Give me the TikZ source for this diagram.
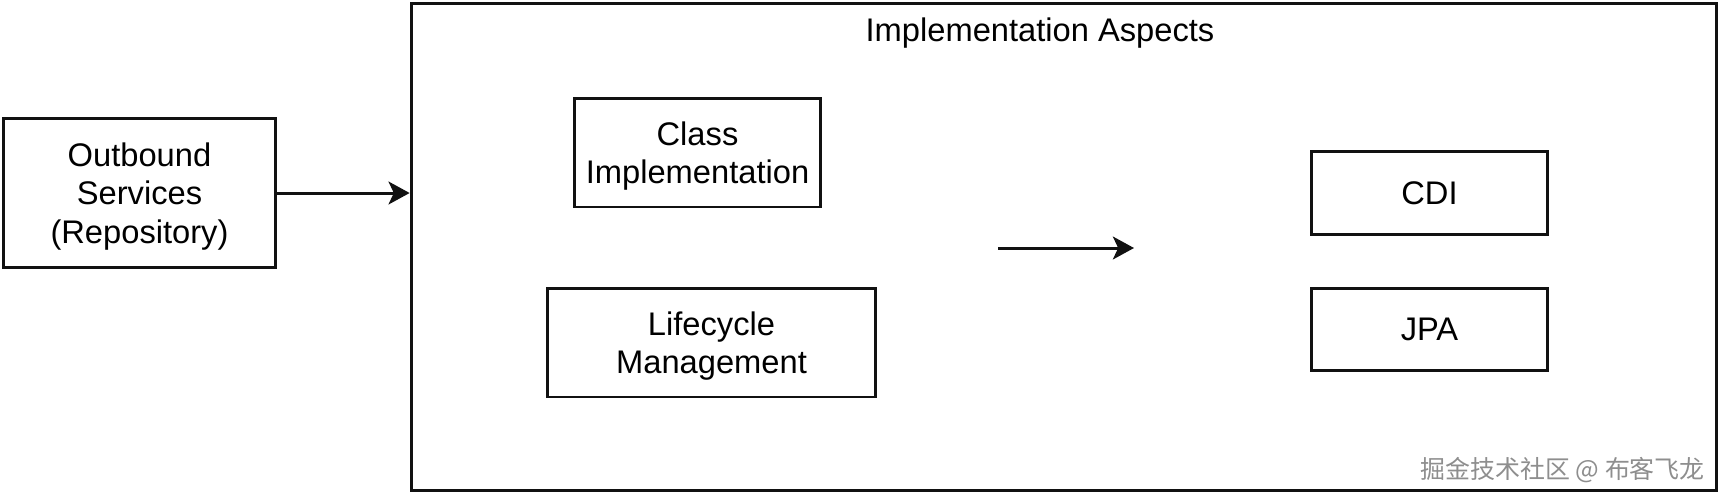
\documentclass[tikz,border=0pt]{standalone}
\usepackage{fontspec}
\setmainfont{Liberation Sans}
\newfontfamily\cjkfont{Noto Sans CJK SC}
\usepackage{xcolor}
\usetikzlibrary{arrows.meta,positioning,calc}
\definecolor{ink}{HTML}{111111}
\definecolor{markgrey}{HTML}{8E8E8E}

\begin{document}
\begin{tikzpicture}[
  x=0.02cm, y=-0.02cm,
  font=\fontsize{18.6}{22}\selectfont,
  block/.style={
    draw=ink, fill=white, line width=1.7pt,
    align=center, inner sep=0pt, text depth=0pt, minimum height=2.18cm
  },
  target/.style={block, minimum width=4.74cm, minimum height=1.65cm},
  arr/.style={-{Stealth[length=12pt,width=13pt,inset=3pt]}, draw=ink, line width=1.7pt}
]

\useasboundingbox (0,0) rectangle (1725,498);

% outer frame and its title
\node[block, minimum width=26.12cm, minimum height=9.76cm] (aspects) at (1064,247) {};
\node (title) at (1040,33) {Implementation Aspects};

\node[block, minimum width=5.46cm, minimum height=3cm] (outbound) at (139.5,193)
  {Outbound\\Services\\(Repository)};

\node[block, minimum width=4.94cm] (classimpl) at (697.5,152.5) {Class\\Implementation};
\node[block, minimum width=6.58cm] (lifecycle) at (711.5,342.5) {Lifecycle\\Management};

\node[target] (cdi) at (1429.5,193) {CDI};
\node[target] (jpa) at (1429.5,329.5) {JPA};

\coordinate (mid1) at (998,248);
\coordinate (mid2) at (1134,248);

\draw[arr] (outbound.east) -- (outbound.east -| aspects.west);
\draw[arr] (mid1) -- (mid2);

\node[font=\cjkfont\fontsize{14.2}{16}\selectfont, text=markgrey, anchor=east] (mark) at (1711,470)
  {掘金技术社区 @ 布客飞龙};

\end{tikzpicture}
\end{document}
